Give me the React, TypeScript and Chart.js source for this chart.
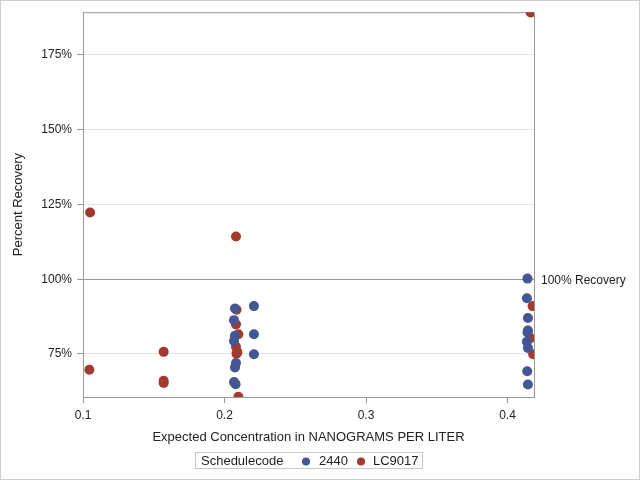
import React, { useEffect, useRef } from "react";
import { Chart, registerables } from "chart.js";

Chart.register(...registerables);

// ---- data ----
const seriesNames = ["2440", "LC9017"];
const legendTitle = "Schedulecode";
const xTitle = "Expected Concentration in NANOGRAMS PER LITER";
const yTitle = "Percent Recovery";
const refLabel = "100% Recovery";
const refValue = 100;

const xTicks = [0.1, 0.2, 0.3, 0.4];
const yTicks = [75, 100, 125, 150, 175];

const s2440X = [
  0.2074, 0.2067, 0.2074, 0.2067, 0.2081, 0.2074, 0.2067, 0.2078,
  0.2208, 0.2208, 0.2208,
  0.4141, 0.4137, 0.4144, 0.4144, 0.4141, 0.4137, 0.4144, 0.4139, 0.4144,
];
const s2440Y = [
  90.2, 86.3, 81.1, 79.3, 72.0, 70.5, 65.6, 64.9,
  91.0, 81.6, 74.9,
  100.2, 93.6, 87.0, 82.8, 82.2, 79.1, 77.0, 69.2, 64.8,
];

const lc9017X = [
  0.105, 0.1045,
  0.157, 0.157, 0.157,
  0.2081, 0.2085, 0.2081, 0.2098, 0.2081, 0.2091, 0.2085, 0.2098,
  0.4163, 0.4177, 0.4163, 0.4181,
];
const lc9017Y = [
  122.3, 69.7,
  75.7, 66.0, 65.3,
  114.3, 89.8, 84.9, 81.6, 77.4, 75.6, 75.1, 60.7,
  189.2, 91.0, 80.3, 74.9,
];

const colors = ["#445694", "#A23A2E"];

const FONT = '"Liberation Sans", Arial, sans-serif';

export default function App() {
  const ref = useRef<HTMLCanvasElement | null>(null);

  useEffect(() => {
    const canvas = ref.current;
    if (!canvas) return;

    const decor = {
      id: "decor",
      beforeDatasetsDraw(chart: any) {
        const { ctx, chartArea } = chart;
        const y = chart.scales.y.getPixelForValue(refValue);
        ctx.save();
        ctx.strokeStyle = "#999999";
        ctx.lineWidth = 1;
        ctx.beginPath();
        ctx.moveTo(chartArea.left, Math.round(y) + 0.5);
        ctx.lineTo(chartArea.right, Math.round(y) + 0.5);
        // frame top & right
        ctx.moveTo(chartArea.left, chartArea.top + 0.5);
        ctx.lineTo(chartArea.right + 0.5, chartArea.top + 0.5);
        ctx.lineTo(chartArea.right + 0.5, chartArea.bottom);
        ctx.stroke();
        ctx.restore();
      },
      afterDraw(chart: any) {
        const { ctx, chartArea } = chart;
        ctx.save();
        // outer border
        ctx.strokeStyle = "#d0d0d0";
        ctx.lineWidth = 1;
        ctx.strokeRect(0.5, 0.5, 639, 479);

        ctx.fillStyle = "#222";
        ctx.font = `12px ${FONT}`;
        ctx.textBaseline = "middle";
        ctx.textAlign = "left";
        const y = chart.scales.y.getPixelForValue(refValue);
        ctx.fillText(refLabel, chartArea.right + 7, y + 1);

        // axis titles
        ctx.font = `13px ${FONT}`;
        ctx.textAlign = "center";
        ctx.fillText(xTitle, (chartArea.left + chartArea.right) / 2, 437);
        ctx.save();
        ctx.translate(18, (chartArea.top + chartArea.bottom) / 2);
        ctx.rotate(-Math.PI / 2);
        ctx.fillText(yTitle, 0, 0);
        ctx.restore();

        // legend
        const top = 453, h = 16, cy = top + h / 2 + 0.5;
        ctx.strokeStyle = "#c8c8c8";
        ctx.strokeRect(195.5, top - 0.5, 227, h);
        ctx.textAlign = "left";
        ctx.fillStyle = "#222";
        ctx.fillText(legendTitle, 201, cy);
        const dots = [306, 361];
        const texts = [319, 373];
        seriesNames.forEach((n, i) => {
          ctx.fillStyle = colors[i];
          ctx.beginPath();
          ctx.arc(dots[i], cy, 4, 0, Math.PI * 2);
          ctx.fill();
          ctx.fillStyle = "#222";
          ctx.fillText(n, texts[i], cy);
        });
        ctx.restore();
      },
    };

    const chart = new Chart(canvas, {
      type: "scatter",
      data: {
        datasets: [
          {
            label: seriesNames[0],
            data: s2440X.map((x, i) => ({ x, y: s2440Y[i] })),
            backgroundColor: colors[0],
            borderWidth: 0,
            pointRadius: 5,
            clip: 0,
          },
          {
            label: seriesNames[1],
            data: lc9017X.map((x, i) => ({ x, y: lc9017Y[i] })),
            backgroundColor: colors[1],
            borderWidth: 0,
            pointRadius: 5,
            clip: 0,
          },
        ],
      },
      options: {
        responsive: false,
        animation: false,
        layout: { padding: { left: 0, right: 106, top: 11, bottom: 0 } },
        plugins: {
          legend: { display: false },
          tooltip: { enabled: false },
        },
        scales: {
          x: {
            type: "linear",
            min: 0.1,
            max: 0.4187,
            afterBuildTicks: (s: any) => {
              s.ticks = xTicks.map((v) => ({ value: v }));
            },
            afterFit: (s: any) => {
              s.height = 83;
            },
            grid: { drawOnChartArea: false, tickLength: 6, color: "#999999" },
            border: { color: "#999999" },
            ticks: {
              padding: 5,
              autoSkip: false,
              maxRotation: 0,
              color: "#222",
              font: { family: FONT, size: 12 },
              callback: (v: any) => Number(v).toFixed(1),
            },
          },
          y: {
            type: "linear",
            min: 60.6,
            max: 189.3,
            afterBuildTicks: (s: any) => {
              s.ticks = yTicks.map((v) => ({ value: v }));
            },
            afterFit: (s: any) => {
              s.width = 83;
            },
            grid: { color: "#e4e4e4", tickColor: "#999999", tickLength: 6 },
            border: { color: "#999999" },
            ticks: {
              padding: 5,
              autoSkip: false,
              color: "#222",
              font: { family: FONT, size: 12 },
              callback: (v: any) => `${v}%`,
            },
          },
        },
      },
      plugins: [decor],
    });

    return () => chart.destroy();
  }, []);

  return (
    <div style={{ position: "absolute", left: 0, top: 0, width: 640, height: 480 }}>
      <canvas ref={ref} width={640} height={480} style={{ display: "block", width: 640, height: 480 }} />
    </div>
  );
}
